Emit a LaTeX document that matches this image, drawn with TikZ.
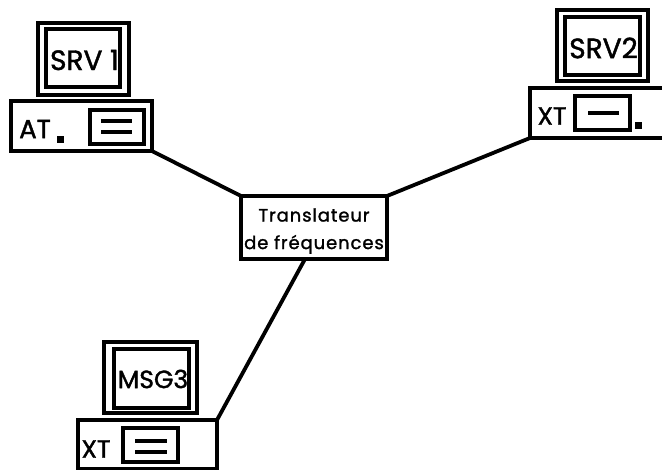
\documentclass[tikz,border=0pt]{standalone}
\usepackage{fontspec}
\setmainfont{Poppins}
\tikzset{
  x=1pt,y=-1pt,
  box/.style={draw=black,line width=3.2pt,fill=none,rectangle,inner sep=0pt,outer sep=0pt,anchor=north west},
  link/.style={draw=black,line width=3.8pt},
  bar/.style={draw=black,line width=3.4pt},
  lab/.style={inner sep=0pt},
  small/.style={inner sep=0pt,align=center,font=\fontsize{18}{27.5}\selectfont\addfontfeatures{LetterSpace=5,FakeBold=1.4}},
  led/.style={fill=black,inner sep=0pt,minimum size=7pt,rectangle}
}
\newcommand{\bx}[5]{\node[box,minimum width=#4pt-#2pt,minimum height=#5pt-#3pt] (#1) at (#2,#3) {};}
\newcommand{\lf}[1]{\fontsize{#1}{#1}\selectfont\addfontfeatures{FakeBold=1.5}}
\begin{document}
\begin{tikzpicture}
\useasboundingbox (0,0) rectangle (662,470);
\clip (0,0) rectangle (662,470);
% SRV1
\bx{mA}{38}{23}{129}{95}
\bx{iA}{46}{29}{120}{87}
\bx{bA}{11}{101}{152}{151}
\bx{dA}{90}{110}{144}{144}
\node[lab,font=\lf{28}] (tA) at (84.5,60) {SRV 1};
\node[lab,font=\lf{26}] (aA) at (35,129) {AT};
\node[led] (lA) at (60,139.5) {};
\draw[bar] (101,121) coordinate (a1) -- (132,121) coordinate (a2);
\draw[bar] (101,132) coordinate (a3) -- (132,132) coordinate (a4);
% SRV2
\bx{mB}{557}{10}{648}{81}
\bx{iB}{565}{17}{640}{75}
\bx{bB}{530}{88}{672}{138}
\bx{dB}{575}{96}{630}{130}
\node[lab,font=\lf{28}] (tB) at (603.5,48) {SRV2};
\node[lab,font=\lf{25}] (aB) at (552,116) {XT};
\node[led] (lB) at (638.5,125.5) {};
\draw[bar] (588,113) coordinate (b1) -- (619,113) coordinate (b2);
% MSG3
\bx{mC}{104}{342}{197}{413}
\bx{iC}{114}{349}{189}{408}
\bx{bC}{78}{420}{217}{469}
\bx{dC}{123}{428}{178}{462}
\node[lab,font=\lf{25}] (tC) at (153,379) {MSG3};
\node[lab,font=\lf{25}] (aC) at (96,449) {XT};
\draw[bar] (135,441) coordinate (c1) -- (167,441) coordinate (c2);
\draw[bar] (135,452) coordinate (c3) -- (167,452) coordinate (c4);
% Translator
\bx{tr}{241}{196}{387}{259}
\node[small] (trt) at (314,231) {Translateur\\de fréquences};
% Links
\coordinate (trs) at (305,259);
\draw[link] (bA.south east) -- (tr.north west);
\draw[link] (bB.south west) -- (tr.north east);
\draw[link] (bC.north east) -- (trs);
\end{tikzpicture}
\end{document}
